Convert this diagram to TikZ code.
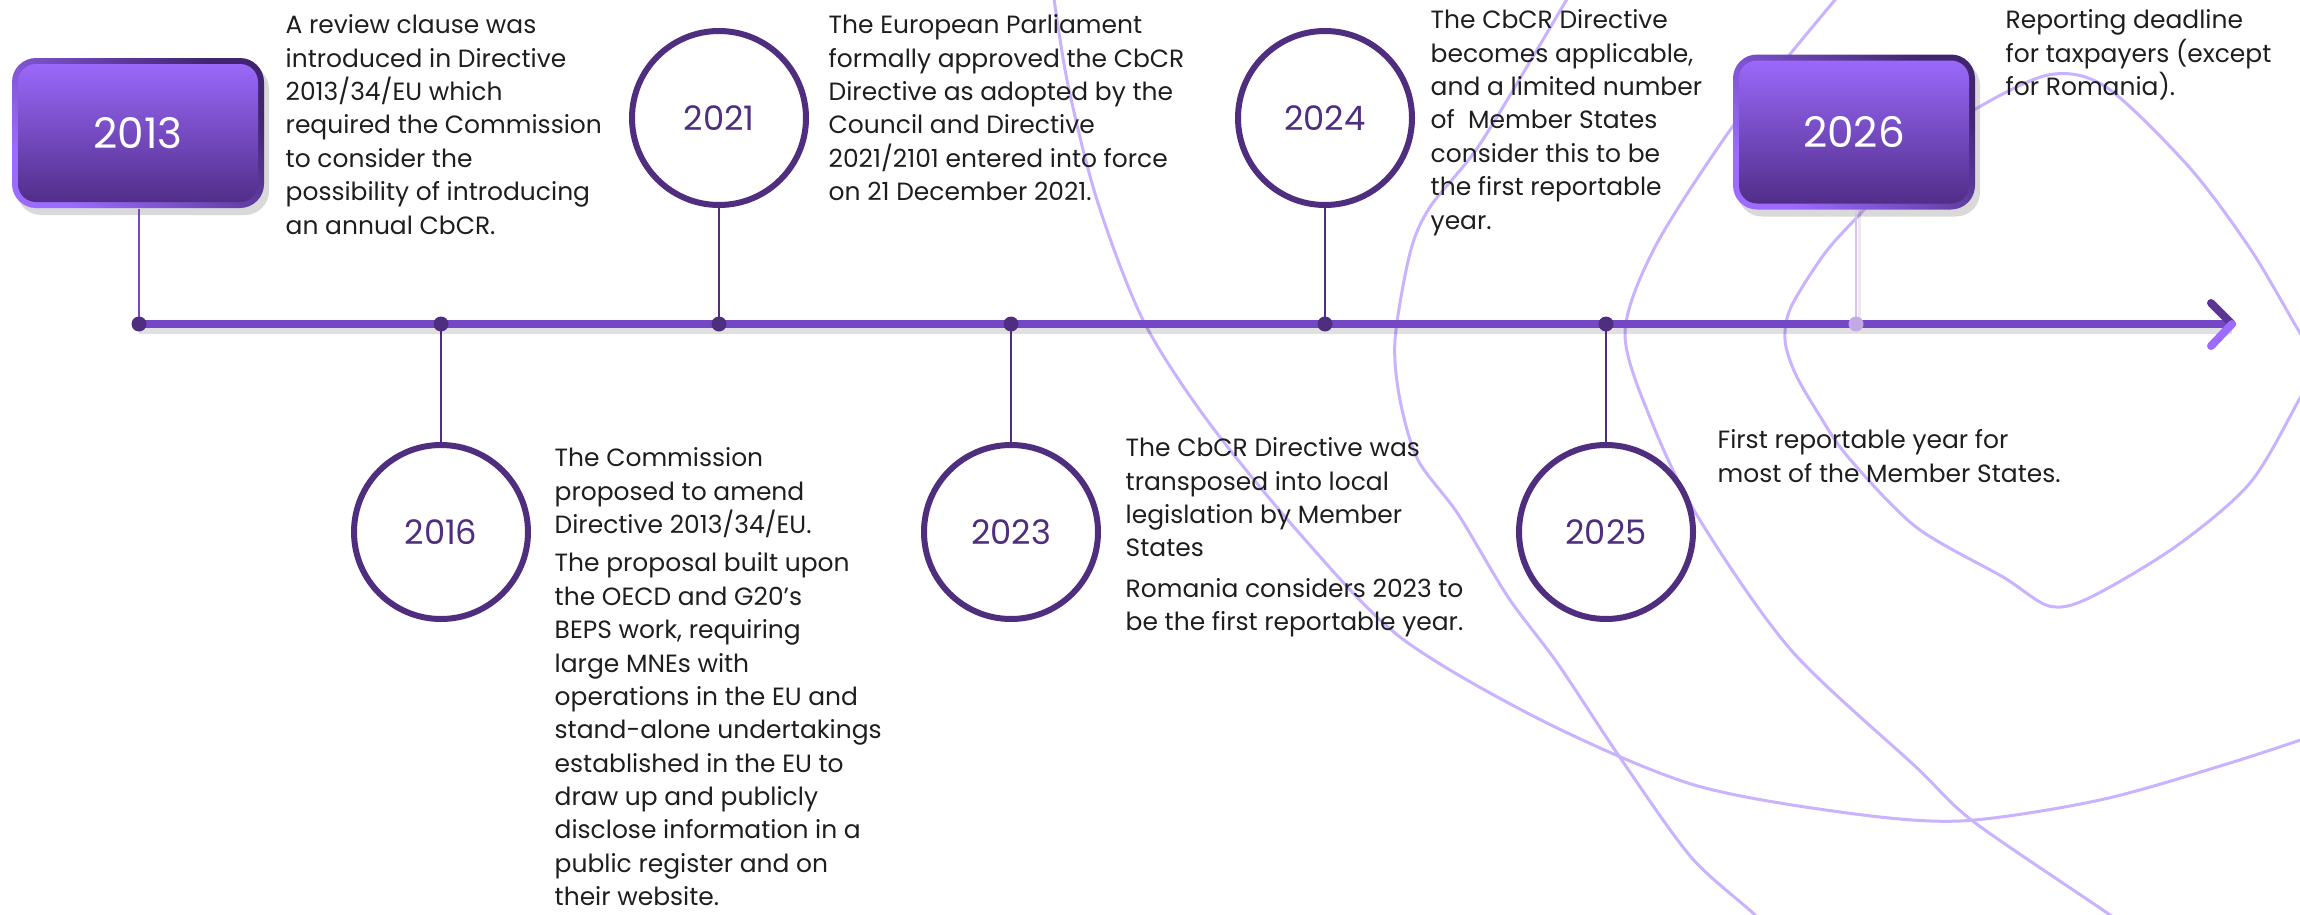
\documentclass[tikz,border=0pt]{standalone}
\usepackage{fontspec}
\setmainfont{Poppins}
\usetikzlibrary{shadows}

\definecolor{deeppurple}{HTML}{4F2D7F}
\definecolor{midpurple}{HTML}{7447C4}
\definecolor{brightviolet}{HTML}{9D6BFF}
\definecolor{plum}{HTML}{4E2B84}
\definecolor{lilac}{HTML}{C9B2FE}
\definecolor{paleplum}{HTML}{C3A9E6}
\definecolor{ink}{HTML}{1E1E1E}

\tikzset{
  yearring/.style={circle, draw=deeppurple, line width=0.06cm, fill=white, minimum size=1.74cm,
    inner sep=0pt, text=deeppurple, font=\fontsize{9.6}{10}\selectfont},
  yearbox/.style={rectangle, rounded corners=0.24cm, minimum width=2.52cm, minimum height=1.5cm,
    inner sep=0pt, text=white, font=\fontsize{12}{13}\selectfont,
    drop shadow={shadow xshift=0.05cm, shadow yshift=-0.07cm, opacity=0.3},
    top color=plum!85!black, bottom color=brightviolet, shading angle=-45,
    path picture={\shade[top color=brightviolet, bottom color=plum, rounded corners=0.18cm]
      ([xshift=0.06cm,yshift=-0.06cm]path picture bounding box.north west) rectangle
      ([xshift=-0.06cm,yshift=0.06cm]path picture bounding box.south east);}},
  note/.style={anchor=north west, inner sep=0pt, align=left, text=ink,
    font=\fontsize{7.1}{9.5}\selectfont},
  stem/.style={draw=deeppurple, line width=0.028cm},
  swirlline/.style={draw=lilac, line width=0.03cm},
}

\begin{document}
\begin{tikzpicture}
\useasboundingbox (0,0) rectangle (23,-9.15);
%background swirls
\begin{scope}
\clip (0,0) rectangle (23,-9.15);
\draw[swirlline] plot[smooth] coordinates {(10.50,0.30) (10.67,-0.80) (10.97,-2.00) (11.43,-3.20)
  (12.07,-4.20) (13.00,-5.34) (14.00,-6.37) (15.41,-7.20) (16.91,-7.84) (18.40,-8.12)
  (19.60,-8.21) (21.00,-8.00) (22.30,-7.63) (23.30,-7.30)};
\draw[swirlline] plot[smooth] coordinates {(15.90,0.40) (15.41,-0.43) (14.78,-1.47) (14.30,-2.07)
  (14.10,-2.53) (13.95,-3.40) (14.00,-4.00) (14.18,-4.60) (14.58,-5.14) (15.08,-5.97)
  (15.58,-6.64) (16.21,-7.59) (16.91,-8.57) (17.55,-9.15) (17.80,-9.45)};
\draw[swirlline] plot[smooth] coordinates {(18.60,0.30) (17.91,-0.53) (17.28,-1.33) (16.55,-2.47)
  (16.25,-3.33) (16.51,-4.20) (16.98,-5.17) (17.91,-6.50) (19.16,-7.67) (19.74,-8.22)
  (21.10,-9.15) (21.40,-9.40)};
\draw[swirlline] plot[smooth cycle] coordinates {(23.20,-3.62) (23.00,-3.33) (22.51,-2.50)
  (21.89,-1.67) (21.06,-0.87) (20.48,-0.75) (19.69,-1.13) (19.10,-1.60) (18.61,-2.13)
  (18.25,-2.53) (17.91,-3.07) (17.85,-3.40) (17.95,-3.73) (18.18,-4.13) (18.48,-4.57)
  (19.16,-5.27) (20.03,-5.77) (20.49,-6.06) (20.89,-5.98) (21.75,-5.47) (22.50,-4.83)
  (23.00,-3.98)};
\end{scope}

%year boxes and rings
\node[yearbox] (y2013) at (1.38,-1.33) {2013};
\node[yearbox, minimum width=2.42cm, minimum height=1.55cm] (y2026) at (18.54,-1.32) {2026};
\node[yearring] (r2016) at (4.41,-5.32) {2016};
\node[yearring] (r2021) at (7.19,-1.18) {2021};
\node[yearring] (r2023) at (10.11,-5.32) {2023};
\node[yearring] (r2024) at (13.25,-1.18) {2024};
\node[yearring] (r2025) at (16.06,-5.32) {2025};

%ticks
\coordinate (t2013) at (1.39,-3.24);
\coordinate (t2016) at (4.41,-3.24);
\coordinate (t2021) at (7.19,-3.24);
\coordinate (t2023) at (10.11,-3.24);
\coordinate (t2024) at (13.25,-3.24);
\coordinate (t2025) at (16.06,-3.24);
\coordinate (t2026) at (18.56,-3.24);
\coordinate (tip) at (22.32,-3.24);
\coordinate (barbhi) at (22.11,-3.03);
\coordinate (barblo) at (22.11,-3.46);

%stems
\draw[stem, midpurple] (y2013.south -| t2013) -- (t2013);
\draw[stem] (r2016.north) -- (t2016);
\draw[stem] (r2021.south) -- (t2021);
\draw[stem] (r2023.north) -- (t2023);
\draw[stem] (r2024.south) -- (t2024);
\draw[stem] (r2025.north) -- (t2025);
\draw[line width=0.03cm, black, opacity=0.08] ([xshift=0.03cm]y2026.south -| t2026) -- ([xshift=0.03cm]t2026);
\draw[line width=0.028cm, paleplum!70!white] (y2026.south -| t2026) -- (t2026);

%timeline
\draw[line width=0.08cm, black, opacity=0.12] ([yshift=-0.06cm]t2013) -- ([yshift=-0.06cm]tip);
\draw[line width=0.08cm, midpurple] (t2013) -- (tip);
\draw[line width=0.08cm, line cap=round, deeppurple!70!midpurple] (tip) -- (barbhi);
\draw[line width=0.08cm, line cap=round, brightviolet] (tip) -- (barblo);
\foreach \t in {t2013,t2016,t2021,t2023,t2024,t2025}
  \fill[deeppurple] (\t) circle [radius=0.075];
\fill[paleplum] (t2026) circle [radius=0.075];

%notes
\node[note] (n2013) at (2.85,-0.14) {A review clause was\\introduced in Directive\\2013/34/EU which\\required the Commission\\to consider the\\possibility of introducing\\an annual CbCR.};
\node[note] (n2016) at (5.54,-4.47) {The Commission\\proposed to amend\\Directive 2013/34/EU.\\[0.05cm]The proposal built upon\\the OECD and G20’s\\BEPS work, requiring\\large MNEs with\\operations in the EU and\\stand-alone undertakings\\established in the EU to\\draw up and publicly\\disclose information in a\\public register and on\\their website.};
\node[note] (n2021) at (8.28,-0.14) {The European Parliament\\formally approved the CbCR\\Directive as adopted by the\\Council and Directive\\2021/2101 entered into force\\on 21 December 2021.};
\node[note] (n2023) at (11.25,-4.37) {The CbCR Directive was\\transposed into local\\legislation by Member\\States\\[0.07cm]Romania considers 2023 to\\be the first reportable year.};
\node[note] (n2024) at (14.30,-0.09) {The CbCR Directive\\becomes applicable,\\and a limited number\\of\ \ Member States\\consider this to be\\the first reportable\\year.};
\node[note] (n2025) at (17.17,-4.29) {First reportable year for\\most of the Member States.};
\node[note] (n2026) at (20.05,-0.09) {Reporting deadline\\for taxpayers (except\\for Romania).};
\end{tikzpicture}
\end{document}
